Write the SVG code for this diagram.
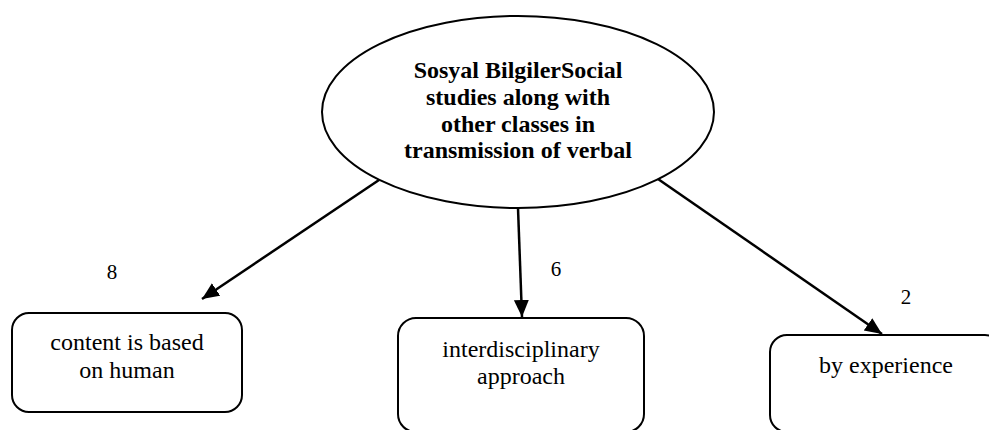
<svg xmlns="http://www.w3.org/2000/svg" width="989" height="430" viewBox="0 0 989 430">
<style>
.shape{fill:#fff;stroke:#000;stroke-width:2}
.t{font-family:'Liberation Serif','Times New Roman',serif;font-size:24px;fill:#000;text-anchor:middle}
.b{font-weight:bold}
.lbl{font-family:'Liberation Serif','Times New Roman',serif;font-size:21px;fill:#000;text-anchor:middle}
.conn{stroke:#000;stroke-width:2.5;fill:none;marker-end:url(#ah)}
</style>
<defs>
<marker id="ah" markerUnits="userSpaceOnUse" markerWidth="18" markerHeight="16" refX="17" refY="7.5" orient="auto">
<path d="M0,0 L17,7.5 L0,15 z" fill="#000"/>
</marker>
</defs>
<rect width="989" height="430" fill="#fff"/>
<g id="connectors">
<line class="conn" x1="379" y1="180" x2="202" y2="299"/>
<line class="conn" x1="518" y1="208" x2="522" y2="317"/>
<line class="conn" x1="658" y1="179" x2="882" y2="334"/>
</g>
<g id="root">
<ellipse class="shape" cx="518" cy="112" rx="196" ry="96"/>
<text class="t b" x="518" y="78">Sosyal BilgilerSocial</text>
<text class="t b" x="518" y="104.5">studies along with</text>
<text class="t b" x="518" y="131.5">other classes in</text>
<text class="t b" x="518" y="158">transmission of verbal</text>
</g>
<g id="node-content">
<rect class="shape" x="12" y="313" width="230" height="99" rx="17"/>
<text class="t" x="127" y="350">content is based</text>
<text class="t" x="127" y="378">on human</text>
</g>
<g id="node-interdisciplinary">
<rect class="shape" x="398" y="318" width="246" height="114" rx="18"/>
<text class="t" x="521" y="357">interdisciplinary</text>
<text class="t" x="521" y="384">approach</text>
</g>
<g id="node-experience">
<rect class="shape" x="770" y="335" width="232" height="97" rx="17"/>
<text class="t" x="886" y="373">by experience</text>
</g>
<g id="labels">
<text class="lbl" x="112" y="279">8</text>
<text class="lbl" x="556" y="276">6</text>
<text class="lbl" x="906" y="304">2</text>
</g>
</svg>
